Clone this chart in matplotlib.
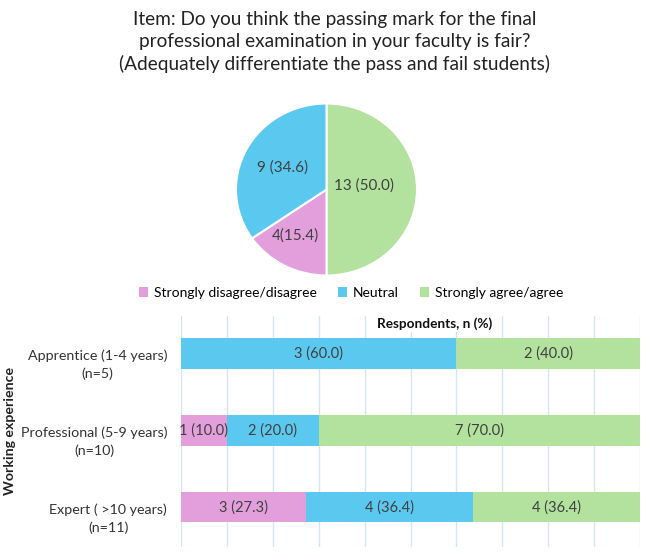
import numpy as np
import matplotlib.pyplot as plt
from matplotlib.patches import Patch
import matplotlib.transforms as mtransforms

plt.rcParams['font.family'] = ['Lato', 'DejaVu Sans']

# data
categories = ['Strongly disagree/disagree', 'Neutral', 'Strongly agree/agree']
colors = ['#E29FDB', '#5BC8F0', '#B3E29E']

pie_counts = [4, 9, 13]
pie_pct = [15.4, 34.6, 50.0]
pie_labels = ['4(15.4)', '9 (34.6)', '13 (50.0)']

groups = ['Apprentice (1-4 years)\n(n=5)',
          'Professional (5-9 years)\n(n=10)',
          'Expert ( >10 years)\n(n=11)']
bar_counts = {
    'Strongly disagree/disagree': [0, 1, 3],
    'Neutral': [3, 2, 4],
    'Strongly agree/agree': [2, 7, 4],
}
bar_pct = {
    'Strongly disagree/disagree': [0.0, 10.0, 27.3],
    'Neutral': [60.0, 20.0, 36.4],
    'Strongly agree/agree': [40.0, 70.0, 36.4],
}

W, H = 669, 553
fig = plt.figure(figsize=(W / 100, H / 100), dpi=100)

fig.text(0.5, 1 - 42 / H,
         'Item: Do you think the passing mark for the final\n'
         'professional examination in your faculty is fair?\n'
         '(Adequately differentiate the pass and fail students)',
         ha='center', va='center', fontsize=13.7, color='#222222', linespacing=1.36)

# pie: green first going clockwise from the top, then pink, then blue
cx, cy, rx, ry = 326.5, 189.5, 90.5, 86
ax_pie = fig.add_axes([(cx - rx) / W, (H - cy - ry) / H, 2 * rx / W, 2 * ry / H])
order = [2, 0, 1]
ax_pie.pie([pie_counts[i] for i in order], colors=[colors[i] for i in order],
           startangle=90, counterclock=False,
           wedgeprops=dict(edgecolor='white', linewidth=1.5))
ax_pie.set_xlim(-1, 1)
ax_pie.set_ylim(-1, 1)
ax_pie.set_aspect('auto')
label_xy = {0: (-0.34, -0.53), 1: (-0.49, 0.26), 2: (0.41, 0.05)}
for i, lab in enumerate(pie_labels):
    x, y = label_xy[i]
    ax_pie.text(x, y, lab, ha='center', va='center', fontsize=11, color='#404040')

# legend
handles = [Patch(facecolor=c, edgecolor='none') for c in colors]
fig.legend(handles, categories, loc='center', bbox_to_anchor=(351 / W, 1 - 293 / H),
           ncol=3, frameon=False, fontsize=10, handlelength=0.7, handleheight=0.7,
           handletextpad=0.4, columnspacing=1.5)

# stacked bars
ax = fig.add_axes([181 / W, (H - 547) / H, (640 - 181) / W, (547 - 316) / H])
y = np.arange(len(groups))
left = np.zeros(len(groups))
for cat, col in zip(categories, colors):
    vals = np.array(bar_pct[cat])
    ax.barh(y, vals, left=left, height=0.4, color=col, zorder=2)
    for yi, (v, n, l) in enumerate(zip(vals, bar_counts[cat], left)):
        if v > 0:
            ax.text(l + v / 2, yi, f'{n} ({v:.1f})', ha='center', va='center',
                    fontsize=10.5, color='#404040', zorder=3)
    left += vals

ax.set_xlim(0, 100)
ax.set_ylim(2.52, -0.49)
ax.set_xticks(np.arange(0, 101, 10))
ax.xaxis.grid(True, color='#D5E6F3', linewidth=1)
ax.set_axisbelow(True)
ax.tick_params(left=False, bottom=False, labelbottom=False, labelleft=False)
for s in ax.spines.values():
    s.set_visible(False)

trans = mtransforms.blended_transform_factory(ax.transAxes, ax.transData)
for yi, g in enumerate(groups):
    ax.text(-0.03, yi - 0.05, g, transform=trans, ha='right', va='top',
            multialignment='center', fontsize=10.3, color='#333333', linespacing=1.5)

ax.text(0.553, 1 - 8 / 231, 'Respondents, n (%)', transform=ax.transAxes,
        ha='center', va='center', fontsize=9.8, fontweight='bold', color='#111111',
        bbox=dict(facecolor='white', edgecolor='none', pad=1), zorder=4)

fig.text(10 / W, 1 - 431 / H, 'Working experience', rotation=90, ha='center',
         va='center', fontsize=10.2, fontweight='bold', color='#222222')

fig.savefig('out.png', dpi=100)
